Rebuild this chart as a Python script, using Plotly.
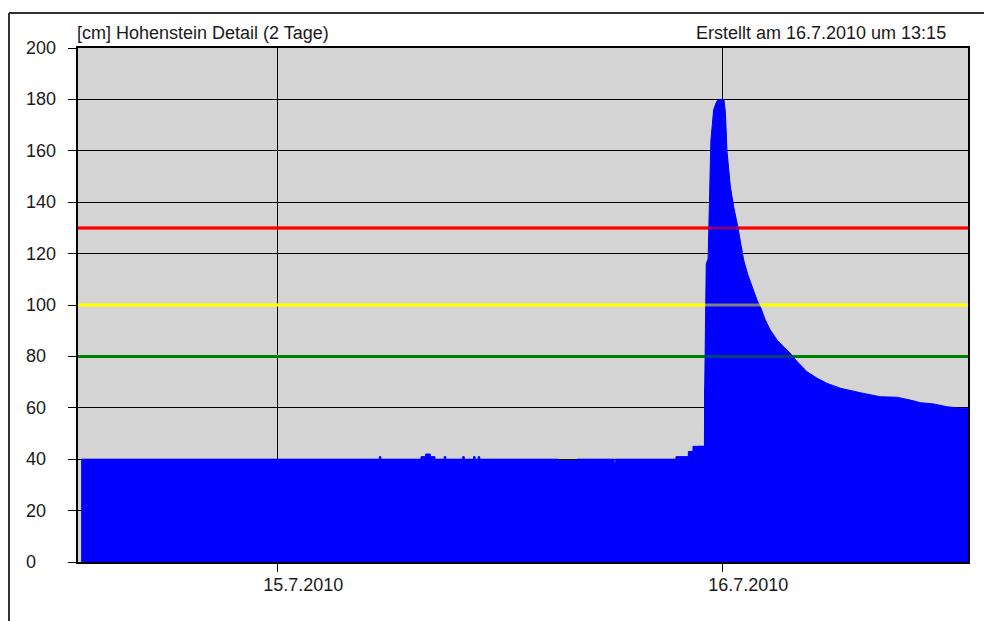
import plotly.graph_objects as go

# ---------------- data ----------------
title_left = "[cm] Hohenstein Detail (2 Tage)"
title_right = "Erstellt am 16.7.2010 um 13:15"

x_range = ["2010-07-14 13:15", "2010-07-16 13:15"]
x_tickvals = ["2010-07-15 00:00", "2010-07-16 00:00"]
x_ticktext = ["15.7.2010", "16.7.2010"]

y_tickvals = [0, 20, 40, 60, 80, 100, 120, 140, 160, 180, 200]
y_ticktext = ["0", "20", "40", "60", "80", "100", "120", "140", "160", "180", "200"]

threshold_values = [130, 100, 80]
threshold_colors = ["#FF0000", "#FFFF00", "#008000"]

# quiet period before the flood wave (stepped readings)
base_times = [
    "2010-07-14 13:25", "2010-07-15 05:30", "2010-07-15 05:35", "2010-07-15 07:45",
    "2010-07-15 08:00", "2010-07-15 08:15", "2010-07-15 08:30", "2010-07-15 09:00",
    "2010-07-15 09:05", "2010-07-15 10:00", "2010-07-15 10:05", "2010-07-15 10:35",
    "2010-07-15 10:40", "2010-07-15 10:50", "2010-07-15 10:55", "2010-07-15 15:10",
    "2010-07-15 16:10", "2010-07-15 18:10", "2010-07-15 18:15", "2010-07-15 21:30",
    "2010-07-15 22:10", "2010-07-15 22:25", "2010-07-15 23:03",
]
base_levels = [
    40, 41, 40, 41,
    42, 41, 40, 41,
    40, 41, 40, 41,
    40, 41, 40, 39.5,
    40, 38.5, 40, 41,
    43, 45, 68,
]

# flood wave and recession
flood_times = [
    "2010-07-15 22:40", "2010-07-15 23:02", "2010-07-15 23:03", "2010-07-15 23:08",
    "2010-07-15 23:14", "2010-07-15 23:16", "2010-07-15 23:19", "2010-07-15 23:23",
    "2010-07-15 23:32", "2010-07-15 23:41", "2010-07-15 23:48", "2010-07-16 00:05",
    "2010-07-16 00:10", "2010-07-16 00:15", "2010-07-16 00:26", "2010-07-16 00:37",
    "2010-07-16 00:50", "2010-07-16 00:58", "2010-07-16 01:09", "2010-07-16 01:22",
    "2010-07-16 01:36", "2010-07-16 01:52", "2010-07-16 02:03", "2010-07-16 02:19",
    "2010-07-16 02:35", "2010-07-16 02:57", "2010-07-16 03:18", "2010-07-16 03:40",
    "2010-07-16 04:02", "2010-07-16 04:34", "2010-07-16 05:07", "2010-07-16 05:39",
    "2010-07-16 06:22", "2010-07-16 07:05", "2010-07-16 07:37", "2010-07-16 08:31",
    "2010-07-16 09:25", "2010-07-16 10:08", "2010-07-16 10:41", "2010-07-16 11:24",
    "2010-07-16 12:07", "2010-07-16 12:50", "2010-07-16 13:15",
]
flood_levels = [
    45, 45, 68, 116,
    118, 131, 148, 164,
    176, 179, 180, 180,
    175, 160, 146, 138,
    130.5, 124.6, 117.5, 112,
    107, 102, 99.3, 94.2,
    90.3, 86.4, 83.8, 81.2,
    78, 74, 71.5, 69.5,
    67.6, 66.3, 65.6, 64.3,
    64.1, 63, 62, 61.5,
    60.4, 59.8, 59.8,
]

# ---------------- layout geometry (pixels) ----------------
# the page body has an 8 px margin, so the figure starts at (8, 8) on screen
OFF = 8
W, H = 992 - OFF, 621 - OFF
PL, PR, PT, PB = 78 - OFF, 968 - OFF, 48 - OFF, 562 - OFF
FONT = "Liberation Sans, Arial, sans-serif"
TXT = "#1a1a1a"
FS = 18
BLUE = "#0000FF"

fig = go.Figure()

# threshold lines beneath the water level area
for v, c in zip(threshold_values, threshold_colors):
    fig.add_trace(go.Scatter(x=x_range, y=[v, v], mode="lines", line=dict(color=c, width=3),
                             hoverinfo="skip", showlegend=False))

fig.add_trace(go.Scatter(
    x=base_times, y=base_levels, mode="lines", line=dict(shape="hv", width=1, color=BLUE),
    fill="tozeroy", fillcolor=BLUE, hoverinfo="skip", showlegend=False,
))
fig.add_trace(go.Scatter(
    x=flood_times, y=flood_levels, mode="lines", line=dict(shape="linear", width=1, color=BLUE),
    fill="tozeroy", fillcolor=BLUE, hoverinfo="skip", showlegend=False,
))

# translucent copy of thresholds over the area
for v, c in zip(threshold_values, threshold_colors):
    fig.add_trace(go.Scatter(x=x_range, y=[v, v], mode="lines", line=dict(color=c, width=3),
                             opacity=0.5, hoverinfo="skip", showlegend=False))

# outer frame (left and top edges)
fx = (9 - OFF) / W
fy = 1 - (13 - OFF) / H
shapes = [
    dict(type="line", xref="paper", yref="paper", x0=fx, x1=fx, y0=0, y1=fy,
         line=dict(color="#333333", width=2)),
    dict(type="line", xref="paper", yref="paper", x0=fx, x1=1, y0=fy, y1=fy,
         line=dict(color="#333333", width=2)),
]

annotations = [
    dict(text=title_left, xref="paper", yref="paper", x=(75 - OFF) / W, y=1 - (33 - OFF) / H,
         xanchor="left", yanchor="middle", showarrow=False, font=dict(size=FS, color=TXT, family=FONT)),
    dict(text=title_right, xref="paper", yref="paper", x=(948 - OFF) / W, y=1 - (33 - OFF) / H,
         xanchor="right", yanchor="middle", showarrow=False, font=dict(size=FS, color=TXT, family=FONT)),
]
for v, t in zip(y_tickvals, y_ticktext):
    annotations.append(dict(text=t, xref="paper", yref="y", x=(24 - OFF) / W, y=v, xanchor="left",
                            yanchor="middle", showarrow=False, font=dict(size=FS, color=TXT, family=FONT)))

fig.update_layout(
    width=W, height=H,
    margin=dict(l=0, r=0, t=0, b=0, pad=0),
    paper_bgcolor="white", plot_bgcolor="#D4D4D4",
    showlegend=False,
    font=dict(family=FONT, size=FS, color=TXT),
    xaxis=dict(
        domain=[PL / W, PR / W], type="date", range=x_range,
        tickvals=x_tickvals, ticktext=x_ticktext,
        ticks="outside", ticklen=8, tickwidth=1, tickcolor="black",
        ticklabelshift=26, ticklabelstandoff=-3,
        showgrid=True, gridcolor="black", gridwidth=1,
        showline=True, linecolor="black", linewidth=2, mirror=True,
        zeroline=False, fixedrange=True,
    ),
    yaxis=dict(
        domain=[1 - PB / H, 1 - PT / H], range=[0, 200],
        tickvals=y_tickvals, showticklabels=False,
        ticks="outside", ticklen=8, tickwidth=1, tickcolor="black",
        showgrid=True, gridcolor="black", gridwidth=1,
        showline=True, linecolor="black", linewidth=2, mirror=True,
        zeroline=False, fixedrange=True,
    ),
    shapes=shapes,
    annotations=annotations,
)

fig.write_html("out.html")
